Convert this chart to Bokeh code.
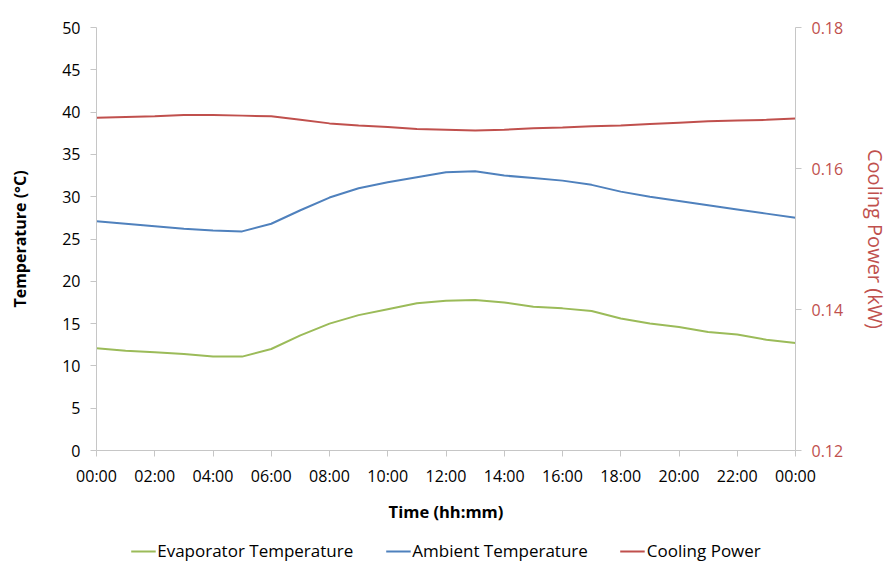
from bokeh.plotting import figure
from bokeh.layouts import column
from bokeh.models import LinearAxis, Range1d, FixedTicker, Legend, LegendItem
from bokeh.embed import file_html
from bokeh.resources import INLINE

# ---- data ----
hours = list(range(0, 25))
evaporator = [12.1, 11.8, 11.6, 11.4, 11.1, 11.1, 12.0, 13.6, 15.0, 16.0, 16.7, 17.4,
              17.7, 17.8, 17.5, 17.0, 16.8, 16.5, 15.6, 15.0, 14.6, 14.0, 13.7, 13.1, 12.7]
ambient = [27.1, 26.8, 26.5, 26.2, 26.0, 25.9, 26.8, 28.4, 29.9, 31.0, 31.7, 32.3,
           32.9, 33.0, 32.5, 32.2, 31.9, 31.4, 30.6, 30.0, 29.5, 29.0, 28.5, 28.0, 27.5]
cooling = [0.1672, 0.1673, 0.1674, 0.1676, 0.1676, 0.1675, 0.1674, 0.1669, 0.1664, 0.1661,
           0.1659, 0.1656, 0.1655, 0.1654, 0.1655, 0.1657, 0.1658, 0.1660, 0.1661, 0.1663,
           0.1665, 0.1667, 0.1668, 0.1669, 0.1671]
series_names = ["Evaporator Temperature", "Ambient Temperature", "Cooling Power"]
x_ticks = [0, 2, 4, 6, 8, 10, 12, 14, 16, 18, 20, 22, 24]
x_tick_labels = ["00:00", "02:00", "04:00", "06:00", "08:00", "10:00", "12:00",
                 "14:00", "16:00", "18:00", "20:00", "22:00", "00:00"]
temp_ticks = [0, 5, 10, 15, 20, 25, 30, 35, 40, 45, 50]
power_ticks = [0.12, 0.14, 0.16, 0.18]
power_tick_labels = ["0.12", "0.14", "0.16", "0.18"]

GREEN = "#9bbb59"
BLUE = "#4f81bd"
RED = "#c0504d"
AXIS = "#c6c6c6"
FONT = "Open Sans"
COLORS = [GREEN, BLUE, RED]

p = figure(width=892, height=530,
           x_range=Range1d(0, 24), y_range=Range1d(0, 50),
           output_backend="svg", toolbar_location=None,
           min_border_left=96, min_border_right=92, min_border_top=27, min_border_bottom=80)
p.extra_y_ranges = {"power": Range1d(0.12, 0.18)}
p.outline_line_color = None
p.xgrid.visible = False
p.ygrid.visible = False

p.line(hours, evaporator, line_color=GREEN, line_width=2)
p.line(hours, ambient, line_color=BLUE, line_width=2)
p.line(hours, cooling, line_color=RED, line_width=2, y_range_name="power")

# x axis
xa = p.xaxis[0]
xa.ticker = FixedTicker(ticks=x_ticks)
xa.major_label_overrides = {t: l for t, l in zip(x_ticks, x_tick_labels)}
xa.axis_label = "Time (hh:mm)"

# left axis
ya = p.yaxis[0]
ya.ticker = FixedTicker(ticks=temp_ticks)
ya.axis_label = "Temperature (°C)"

# right axis
ra = LinearAxis(y_range_name="power", ticker=FixedTicker(ticks=power_ticks),
                axis_label="Cooling Power (kW)")
ra.major_label_overrides = {t: l for t, l in zip(power_ticks, power_tick_labels)}
p.add_layout(ra, "right")

for ax in (xa, ya, ra):
    ax.axis_line_color = AXIS
    ax.major_tick_line_color = AXIS
    ax.minor_tick_line_color = None
    ax.major_tick_in = 0
    ax.major_tick_out = 6
    ax.major_label_text_font = FONT
    ax.major_label_text_font_size = "16px"
    ax.major_label_text_color = "#000000"
    ax.axis_label_text_font = FONT
    ax.axis_label_text_font_size = "16px"
    ax.axis_label_text_font_style = "bold"
    ax.axis_label_text_color = "#000000"
    ax.major_label_standoff = 10

xa.major_label_standoff = 8
xa.axis_label_standoff = 10
xa.axis_label_text_font_size = "16.5px"
ya.axis_label_standoff = 28
ra.major_label_text_color = RED
ra.axis_label_text_color = RED
ra.axis_label_text_font_style = "normal"
ra.axis_label_text_font_size = "20px"
ra.axis_label_standoff = 16

# legend strip below the chart (series drawn out of view; only the legend shows)
lf = figure(width=892, height=31, x_range=Range1d(0, 24), y_range=Range1d(-100, -99),
            output_backend="svg", toolbar_location=None, min_border=0,
            x_axis_location=None, y_axis_location=None)
lf.outline_line_color = None
lf.xgrid.visible = False
lf.ygrid.visible = False
items = []
for name, col, vals in zip(series_names, COLORS, [evaporator, ambient, cooling]):
    r = lf.line(hours, vals, line_color=col, line_width=2)
    items.append(LegendItem(label=name, renderers=[r]))
legend = Legend(items=items, orientation="horizontal", location="top_center",
                border_line_color=None, background_fill_alpha=0,
                label_text_font=FONT, label_text_font_size="17px", label_text_color="#000000",
                glyph_width=25, glyph_height=18, label_height=18,
                label_standoff=2, spacing=32, padding=0, margin=9)
lf.add_layout(legend, "center")

layout = column(p, lf, spacing=0)
open("out.html", "w").write(file_html(layout, INLINE))
